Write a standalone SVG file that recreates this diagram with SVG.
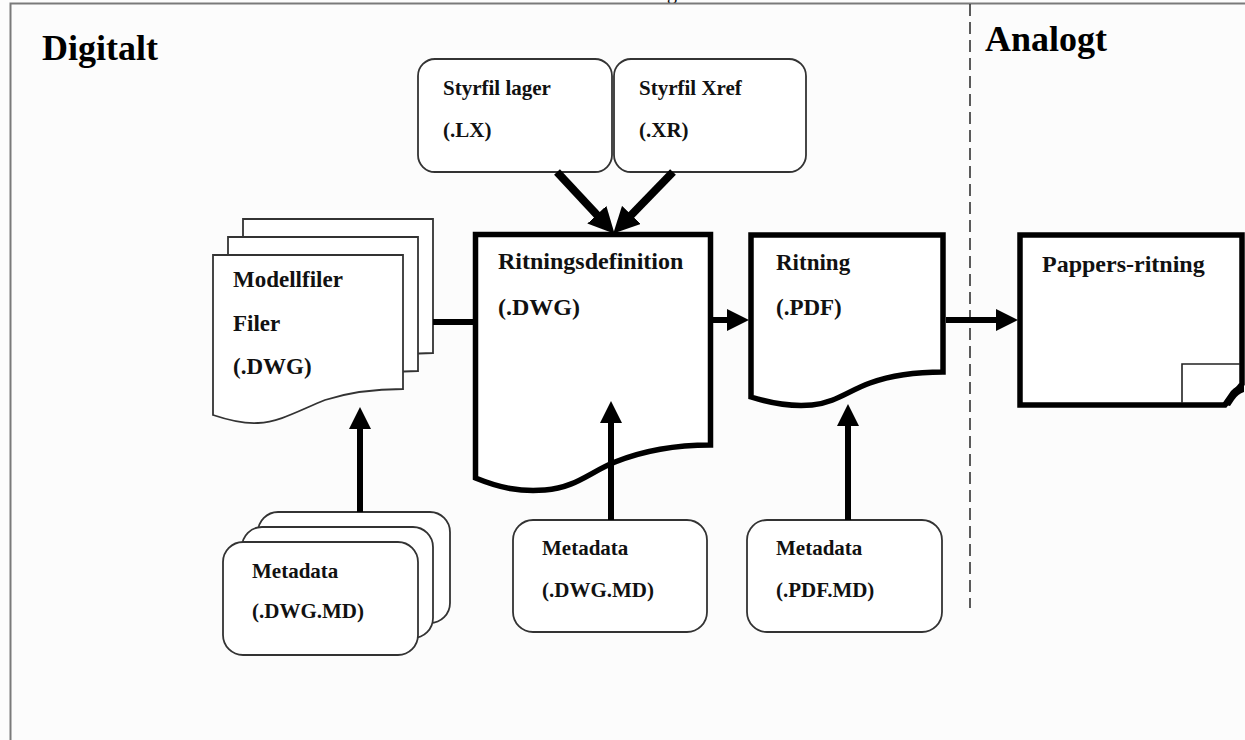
<svg xmlns="http://www.w3.org/2000/svg" width="1245" height="740" viewBox="0 0 1245 740">
<style>
.bg{fill:#fcfcfc}
.frame{fill:none;stroke:#7a7a7a;stroke-width:2}
.dash{fill:none;stroke:#333;stroke-width:1.6;stroke-dasharray:12 6}
.doc{fill:#fff;stroke:#000;stroke-width:5.5;stroke-linejoin:miter}
.sheet{fill:#fff;stroke:#333;stroke-width:1.8}
.rbox{fill:#fff;stroke:#333;stroke-width:1.8}
.thin{fill:none;stroke:#222;stroke-width:1.6}
.conn{fill:none;stroke:#000;stroke-width:6}
.conn8{fill:none;stroke:#000;stroke-width:8}
.h{font-family:"Liberation Serif","Times New Roman",serif;font-weight:bold;font-size:36px;fill:#000}
.t{font-family:"Liberation Serif","Times New Roman",serif;font-weight:bold;font-size:23px;fill:#111}
.s{font-family:"Liberation Serif","Times New Roman",serif;font-weight:bold;font-size:21px;fill:#111}
</style>
<defs>
<marker id="ah" viewBox="0 0 22 22" refX="10" refY="11" markerWidth="22" markerHeight="22" markerUnits="userSpaceOnUse" orient="auto">
<path d="M0,0 L22,11 L0,22 Z" fill="#000"/>
</marker>
<marker id="ahb" viewBox="0 0 26 26" refX="12" refY="13" markerWidth="26" markerHeight="26" markerUnits="userSpaceOnUse" orient="auto">
<path d="M0,0 L26,13 L0,26 Z" fill="#000"/>
</marker>
</defs>
<rect class="bg" x="0" y="0" width="1245" height="740"/>
<text x="667" y="-1" style="font-family:'Liberation Serif',serif;font-size:20px;fill:#000">g</text>
<path class="frame" d="M10.5,740 V3.5 H1245"/>
<path class="dash" d="M970,4 V608"/>
<text class="h" x="42" y="60">Digitalt</text>
<text class="h" x="985" y="51">Analogt</text>

<g id="modellfiler">
<path class="sheet" d="M243,219 H433 V353 C405,353 380,356 355,364 C330,372 310,386 288,387 C273,388 258,384 243,379 Z"/>
<path class="sheet" d="M228,237 H418 V371 C390,371 365,374 340,382 C315,390 295,404 273,405 C258,406 243,402 228,397 Z"/>
<path class="sheet" d="M213,255 H403 V389 C375,389 350,392 325,400 C300,410 280,422 258,423 C243,424 228,420 213,415 Z"/>
<text class="t" x="233" y="287">Modellfiler</text>
<text class="t" x="233" y="331">Filer</text>
<text class="t" x="233" y="374">(.DWG)</text>
</g>

<g id="styrfil-lager">
<rect class="rbox" x="418" y="59" width="194" height="113" rx="17"/>
<text class="s" x="443" y="95">Styrfil lager</text>
<text class="s" x="443" y="137">(.LX)</text>
</g>

<g id="styrfil-xref">
<rect class="rbox" x="614" y="59" width="192" height="113" rx="17"/>
<text class="s" x="639" y="95">Styrfil Xref</text>
<text class="s" x="639" y="137">(.XR)</text>
</g>

<g id="ritningsdefinition">
<path class="doc" d="M475.5,234.5 H710.5 V445 C675,445 645,450 615,462 C590,472 575,488 545,490 C520,492 500,488 475.5,478 Z"/>
<text class="t" x="498" y="269" style="font-size:24px">Ritningsdefinition</text>
<text class="t" x="498" y="315" style="font-size:24px">(.DWG)</text>
</g>

<g id="ritning">
<path class="doc" d="M751,235 H943 V372 C920,372 895,374 870,383 C850,390 835,403 812,405 C790,407 770,403 751,397 Z"/>
<text class="t" x="776" y="270">Ritning</text>
<text class="t" x="776" y="315">(.PDF)</text>
</g>

<g id="pappers-ritning">
<path class="doc" d="M1020,235 H1242 V384 L1225,405 H1020 Z"/>
<path class="thin" d="M1182,403 V364 H1240"/>
<path d="M1222,404 L1231,391 Q1236,385 1244,385 L1244,392 Q1238,394 1234,400 L1230,406 Z" fill="#000"/>
<text class="t" x="1042" y="272" style="font-size:24px">Pappers-ritning</text>
</g>

<g id="metadata-dwg-stack">
<rect class="rbox" x="258" y="512" width="192" height="111" rx="20"/>
<rect class="rbox" x="242" y="527" width="191" height="111" rx="20"/>
<rect class="rbox" x="223" y="542" width="195" height="113" rx="20"/>
<text class="s" x="252" y="578">Metadata</text>
<text class="s" x="252" y="618">(.DWG.MD)</text>
</g>

<g id="metadata-dwg">
<rect class="rbox" x="513" y="520" width="194" height="112" rx="20"/>
<text class="s" x="542" y="555">Metadata</text>
<text class="s" x="542" y="597">(.DWG.MD)</text>
</g>

<g id="metadata-pdf">
<rect class="rbox" x="747" y="520" width="195" height="112" rx="20"/>
<text class="s" x="776" y="555">Metadata</text>
<text class="s" x="776" y="597">(.PDF.MD)</text>
</g>

<g id="connectors">
<path class="conn" d="M433,322 H476"/>
<path class="conn" d="M713,320 H737" marker-end="url(#ah)"/>
<path class="conn" d="M946,320 H1006" marker-end="url(#ah)"/>
<path class="conn" d="M360,512 V419" marker-end="url(#ah)"/>
<path class="conn" d="M611,520 V413" marker-end="url(#ah)"/>
<path class="conn" d="M848,520 V416" marker-end="url(#ah)"/>
<path class="conn8" d="M557,172 L605,223.5" marker-end="url(#ahb)"/>
<path class="conn8" d="M673,172 L623,223.5" marker-end="url(#ahb)"/>
</g>
</svg>
